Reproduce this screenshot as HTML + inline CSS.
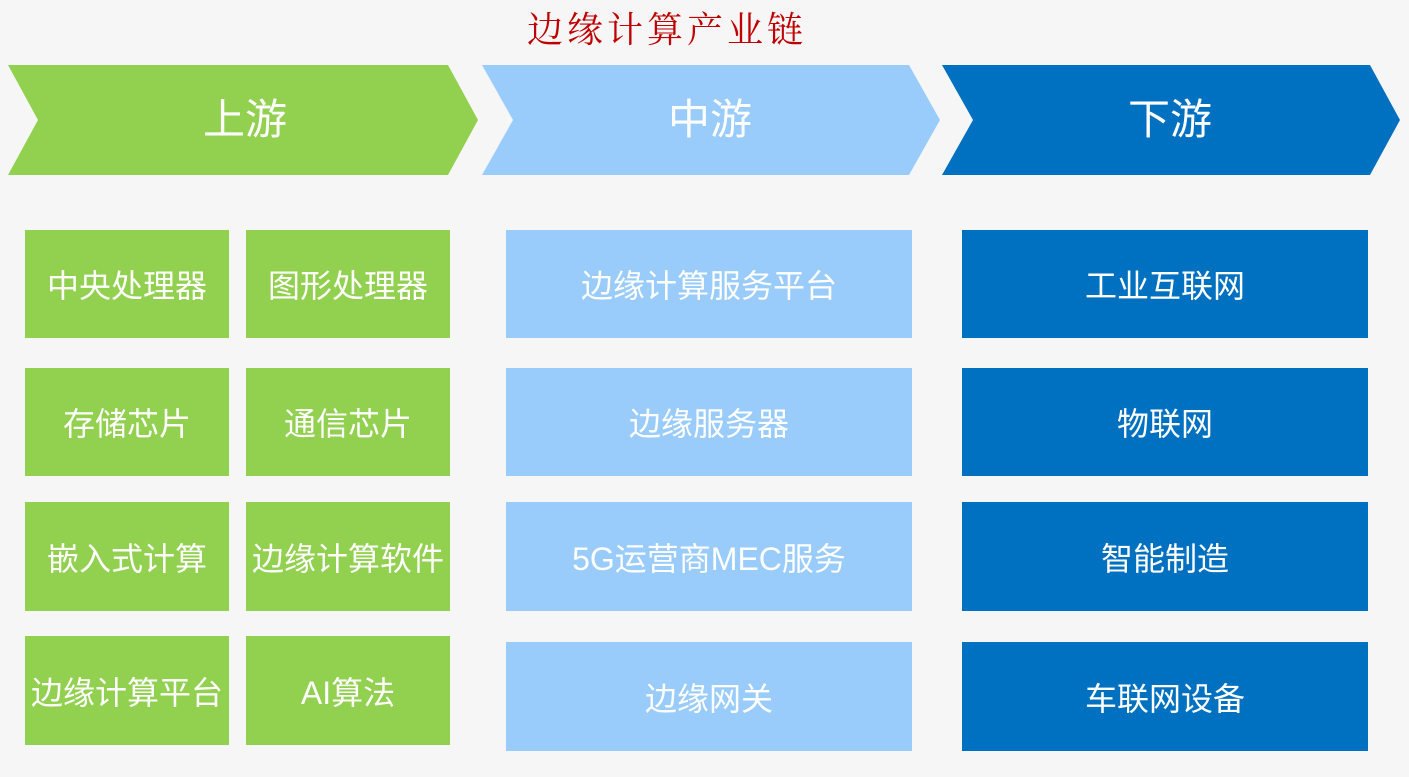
<!DOCTYPE html>
<html><head><meta charset="utf-8"><style>
html,body{margin:0;padding:0;}
body{width:1409px;height:777px;background:#f6f6f6;position:relative;overflow:hidden;font-family:"Liberation Sans","Noto Sans CJK SC",sans-serif;}
.t{position:absolute;left:507px;width:320px;top:2px;text-align:center;color:#c00000;font-family:"Liberation Serif","Noto Serif CJK SC",serif;font-size:36px;letter-spacing:4px;white-space:nowrap;}
.b{position:absolute;color:#fff;display:flex;align-items:center;justify-content:center;font-size:32px;white-space:nowrap;}
.g{background:#92d050;}.l{background:#99ccfb;}.d{background:#0070c0;}
svg{position:absolute;left:0;top:0;}
.h{position:absolute;top:65px;height:110px;line-height:110px;color:#fff;font-size:42px;text-align:center;}
</style></head><body>
<div class="t">边缘计算产业链</div>
<svg width="1409" height="200">
<polygon points="8,65 448,65 478,120 448,175 8,175 38,120" fill="#92d050"/>
<polygon points="482,65 909,65 940,120 909,175 482,175 513,120" fill="#99ccfb"/>
<polygon points="942,65 1370,65 1400,120 1370,175 942,175 973,120" fill="#0070c0"/>
</svg>
<div class="h" style="left:20px;width:450px">上游</div>
<div class="h" style="left:490px;width:440px">中游</div>
<div class="h" style="left:950px;width:440px">下游</div>

<div class="b g" style="left:25px;top:230px;width:204px;height:108px">中央处理器</div>
<div class="b g" style="left:246px;top:230px;width:204px;height:108px">图形处理器</div>
<div class="b g" style="left:25px;top:368px;width:204px;height:108px">存储芯片</div>
<div class="b g" style="left:246px;top:368px;width:204px;height:108px">通信芯片</div>
<div class="b g" style="left:25px;top:502px;width:204px;height:109px">嵌入式计算</div>
<div class="b g" style="left:246px;top:502px;width:204px;height:109px">边缘计算软件</div>
<div class="b g" style="left:25px;top:636px;width:204px;height:109px">边缘计算平台</div>
<div class="b g" style="left:246px;top:636px;width:204px;height:109px">AI算法</div>

<div class="b l" style="left:506px;top:230px;width:406px;height:108px">边缘计算服务平台</div>
<div class="b l" style="left:506px;top:368px;width:406px;height:108px">边缘服务器</div>
<div class="b l" style="left:506px;top:502px;width:406px;height:109px">5G运营商MEC服务</div>
<div class="b l" style="left:506px;top:642px;width:406px;height:109px">边缘网关</div>

<div class="b d" style="left:962px;top:230px;width:406px;height:108px">工业互联网</div>
<div class="b d" style="left:962px;top:368px;width:406px;height:108px">物联网</div>
<div class="b d" style="left:962px;top:502px;width:406px;height:109px">智能制造</div>
<div class="b d" style="left:962px;top:642px;width:406px;height:109px">车联网设备</div>
</body></html>
